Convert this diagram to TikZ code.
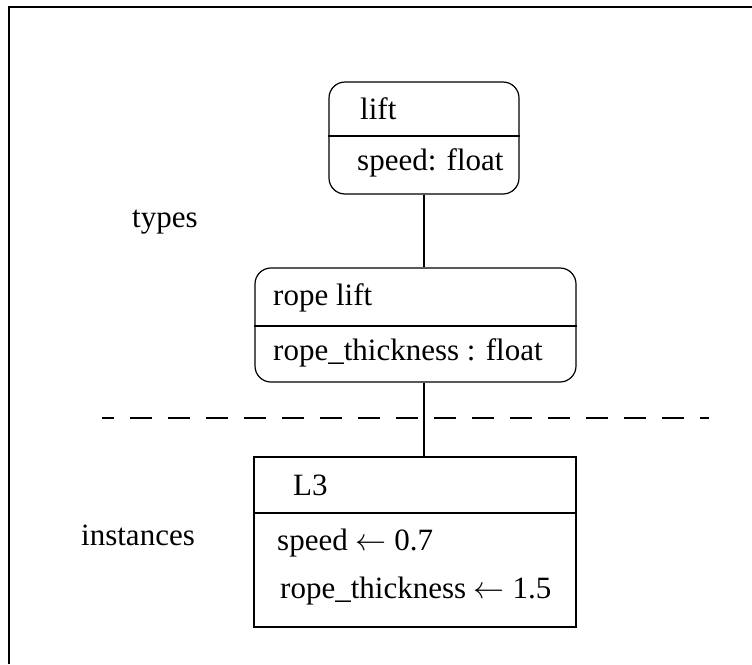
\documentclass[tikz,border=0pt]{standalone}
\usepackage{fix-cm}
\usepackage{fontspec}
\setmainfont{Liberation Serif}
\tikzset{
  typebox/.style={draw, line width=1.2pt, rounded corners=16pt, inner sep=0pt},
  instbox/.style={draw, line width=1.2pt, inner sep=0pt},
  txt/.style={inner sep=0pt, anchor=base west},
  link/.style={line width=1.1pt}
}

\begin{document}
\begin{tikzpicture}[x=1pt, y=-1pt, font=\fontsize{31}{37}\selectfont]
  \useasboundingbox (0,0) rectangle (752,664);
  % frame, only top and left edge visible
  \draw[line width=2pt] (9,664) -- (9,7) -- (752,7);

  % type boxes
  \node[typebox, minimum width=190pt, minimum height=112pt] (lift) at (424,138) {};
  \draw[link] (lift.west |- 0,136) -- (lift.east |- 0,136);
  \node[txt] (liftname) at (360,119) {lift};
  \node[txt] (liftattr) at (357,170) {speed: float};

  \node[typebox, minimum width=321pt, minimum height=114pt] (ropelift) at (415.5,325) {};
  \draw[link] (ropelift.west |- 0,326) -- (ropelift.east |- 0,326);
  \node[txt] (ropename) at (273,305) {rope lift};
  \node[txt] (ropeattr) at (273,360) {rope\_thickness : float};

  % instance box
  \node[instbox, minimum width=322pt, minimum height=170pt] (lthree) at (415,542) {};
  \draw[link] (lthree.west |- 0,513) -- (lthree.east |- 0,513);
  \node[txt] (lthreename) at (293,495) {L3};
  \node[txt] (lthreespeed) at (277,550) {speed $\leftarrow$ 0.7};
  \node[txt] (lthreerope) at (280,598) {rope\_thickness $\leftarrow$ 1.5};

  % connectors
  \draw[link] (lift.south) -- (lift.south |- ropelift.north);
  \draw[link] (lift.south |- ropelift.south) -- (lift.south |- lthree.north);

  % separator between types and instances
  \draw[line width=1.2pt, dash pattern=on 22pt off 16pt, dash phase=10pt] (102,418) -- (709,418);

  % side labels
  \node[txt] (types) at (132,227) {types};
  \node[txt] (instances) at (81,545) {instances};
\end{tikzpicture}
\end{document}
